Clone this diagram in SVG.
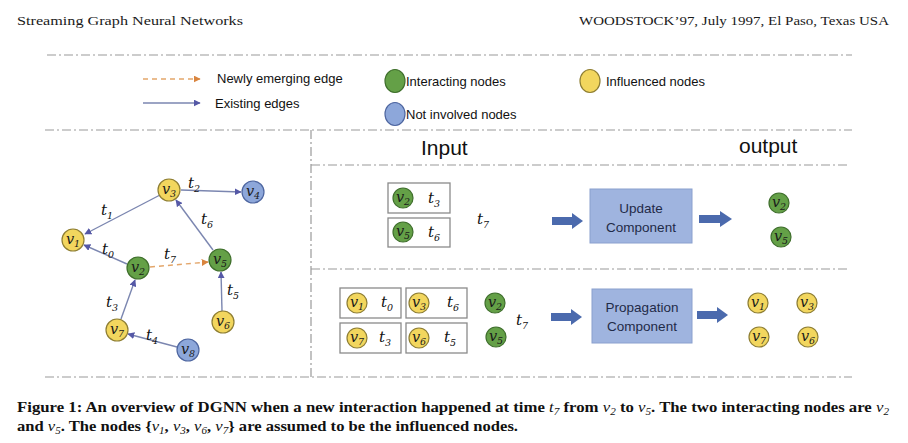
<svg xmlns="http://www.w3.org/2000/svg" width="908" height="443" viewBox="0 0 908 443">
<style>
.hdr{font-family:"Liberation Serif",serif;font-size:13.5px;fill:#1a1a1a}
.cap{font-family:"Liberation Serif",serif;font-size:15px;font-weight:bold;fill:#111}
.m{font-style:italic;font-weight:normal}
.leg{font-family:"Liberation Sans",Arial,sans-serif;font-size:13px;fill:#111}
.big{font-family:"Liberation Sans",Arial,sans-serif;font-size:21px;fill:#111}
.dash{stroke:#9a9a9a;stroke-width:1.2;stroke-dasharray:9 3 2 3;fill:none}
.gn{fill:#64A047;stroke:#3F6F2C;stroke-width:1.2}
.yn{fill:#F2D65E;stroke:#8E7E33;stroke-width:1.2}
.bn{fill:#8DA7DA;stroke:#4E66A0;stroke-width:1.2}
.nl{font-family:"DejaVu Serif",serif;font-style:italic;font-size:14.5px;fill:#1a1a1a;text-anchor:middle}
.sb{font-size:9.5px}
.tl{font-family:"DejaVu Serif",serif;font-style:italic;font-size:15px;fill:#111}
.edge{stroke:#7B86B0;stroke-width:1.4;fill:none}
.newedge{stroke:#E3A66B;stroke-width:1.4;stroke-dasharray:5 4;fill:none}
.sbox{fill:#fff;stroke:#8a8a8a;stroke-width:1.3}
.comp{fill:#9FB4DF;stroke:#8AA0CE;stroke-width:1}
.ct{font-family:"Liberation Sans",Arial,sans-serif;font-size:13.5px;fill:#1F2B48;text-anchor:middle}
.barr{fill:#4B6AAD}
</style>
<defs>
<marker id="ah" viewBox="0 0 10 10" refX="9" refY="5" markerWidth="7" markerHeight="7" markerUnits="userSpaceOnUse" orient="auto">
<path d="M0,0 L10,5 L0,10 z" fill="#5558A6"/>
</marker>
<marker id="ao" viewBox="0 0 10 10" refX="9" refY="5" markerWidth="7" markerHeight="7" markerUnits="userSpaceOnUse" orient="auto">
<path d="M0,0 L10,5 L0,10 z" fill="#D9853F"/>
</marker>
</defs>

<g id="header">
<text class="hdr" x="17" y="25" textLength="226" lengthAdjust="spacingAndGlyphs">Streaming Graph Neural Networks</text>
<text class="hdr" x="579" y="25" textLength="310" lengthAdjust="spacingAndGlyphs">WOODSTOCK’97, July 1997, El Paso, Texas USA</text>
</g>

<g id="frame">
<line class="dash" x1="47" y1="55" x2="852" y2="55"/>
<line class="dash" x1="45" y1="130" x2="852" y2="130"/>
<line class="dash" x1="311" y1="130" x2="311" y2="378"/>
<line class="dash" x1="311" y1="165" x2="848" y2="165"/>
<line class="dash" x1="311" y1="269" x2="850" y2="269"/>
<line class="dash" x1="45" y1="377" x2="852" y2="377"/>
</g>

<g id="legend">
<line class="newedge" x1="143" y1="79" x2="200" y2="79" marker-end="url(#ao)"/>
<text class="leg" x="217" y="83">Newly emerging edge</text>
<line class="edge" x1="143" y1="103" x2="200" y2="103" marker-end="url(#ah)"/>
<text class="leg" x="215" y="108">Existing edges</text>
<ellipse class="gn" cx="395" cy="81" rx="10" ry="11.5"/>
<text class="leg" x="406" y="86">Interacting nodes</text>
<ellipse class="bn" cx="395" cy="114" rx="10" ry="11.5"/>
<text class="leg" x="406" y="119">Not involved nodes</text>
<ellipse class="yn" cx="590" cy="81" rx="10" ry="11.5"/>
<text class="leg" x="606" y="86">Influenced nodes</text>
</g>

<g id="connectors">
<line class="edge" x1="160" y1="195" x2="85" y2="234" marker-end="url(#ah)"/>
<line class="edge" x1="181" y1="190" x2="241" y2="192" marker-end="url(#ah)"/>
<line class="edge" x1="213" y1="250" x2="176" y2="200" marker-end="url(#ah)"/>
<line class="edge" x1="127" y1="264" x2="84" y2="245" marker-end="url(#ah)"/>
<line class="newedge" x1="150" y1="267" x2="208" y2="262" marker-end="url(#ao)"/>
<line class="edge" x1="222" y1="311" x2="221" y2="272" marker-end="url(#ah)"/>
<line class="edge" x1="121" y1="319" x2="135" y2="280" marker-end="url(#ah)"/>
<line class="edge" x1="177" y1="347" x2="128" y2="334" marker-end="url(#ah)"/>
</g>

<g id="graph-labels">
<text class="tl" x="188" y="188">t<tspan class="sb" dy="4">2</tspan></text>
<text class="tl" x="101" y="215">t<tspan class="sb" dy="4">1</tspan></text>
<text class="tl" x="201" y="224">t<tspan class="sb" dy="4">6</tspan></text>
<text class="tl" x="102" y="254">t<tspan class="sb" dy="4">0</tspan></text>
<text class="tl" x="164" y="259">t<tspan class="sb" dy="4">7</tspan></text>
<text class="tl" x="227" y="295">t<tspan class="sb" dy="4">5</tspan></text>
<text class="tl" x="106" y="307">t<tspan class="sb" dy="4">3</tspan></text>
<text class="tl" x="146" y="340">t<tspan class="sb" dy="4">4</tspan></text>
</g>

<g id="node-v3"><circle class="yn" cx="169" cy="190" r="11"/><text class="nl" x="169" y="194">v<tspan class="sb" dy="3">3</tspan></text></g>
<g id="node-v4"><circle class="bn" cx="253" cy="192" r="11"/><text class="nl" x="253" y="196">v<tspan class="sb" dy="3">4</tspan></text></g>
<g id="node-v1"><circle class="yn" cx="73" cy="240" r="11"/><text class="nl" x="73" y="244">v<tspan class="sb" dy="3">1</tspan></text></g>
<g id="node-v2"><circle class="gn" cx="138" cy="268" r="11"/><text class="nl" x="138" y="272">v<tspan class="sb" dy="3">2</tspan></text></g>
<g id="node-v5"><circle class="gn" cx="220" cy="260" r="11"/><text class="nl" x="220" y="264">v<tspan class="sb" dy="3">5</tspan></text></g>
<g id="node-v7"><circle class="yn" cx="117" cy="330" r="11"/><text class="nl" x="117" y="334">v<tspan class="sb" dy="3">7</tspan></text></g>
<g id="node-v6"><circle class="yn" cx="223" cy="322" r="11"/><text class="nl" x="223" y="326">v<tspan class="sb" dy="3">6</tspan></text></g>
<g id="node-v8"><circle class="bn" cx="188" cy="350" r="11"/><text class="nl" x="188" y="354">v<tspan class="sb" dy="3">8</tspan></text></g>

<g id="titles">
<text class="big" x="421" y="155">Input</text>
<text class="big" x="739" y="153">output</text>
</g>

<g id="update-input">
<rect class="sbox" x="388" y="183" width="62" height="30"/>
<circle class="gn" cx="403" cy="198" r="10"/><text class="nl" x="403" y="202">v<tspan class="sb" dy="3">2</tspan></text>
<text class="tl" x="428" y="203">t<tspan class="sb" dy="4">3</tspan></text>
<rect class="sbox" x="388" y="218" width="62" height="29"/>
<circle class="gn" cx="403" cy="232" r="10"/><text class="nl" x="403" y="236">v<tspan class="sb" dy="3">5</tspan></text>
<text class="tl" x="428" y="237">t<tspan class="sb" dy="4">6</tspan></text>
<text class="tl" x="477" y="224">t<tspan class="sb" dy="4">7</tspan></text>
</g>

<g id="update-arrow-in"><polygon class="barr" points="552,217 572,217 572,213 583,221 572,229 572,225 552,225"/></g>
<g id="update-component">
<rect class="comp" x="590" y="189" width="102" height="54"/>
<text class="ct" x="641" y="213">Update</text>
<text class="ct" x="641" y="232">Component</text>
</g>
<g id="update-arrow-out"><polygon class="barr" points="699,215 720,215 720,211 732,219 720,227 720,223 699,223"/></g>
<g id="update-output">
<circle class="gn" cx="779" cy="203" r="10"/><text class="nl" x="779" y="207">v<tspan class="sb" dy="3">2</tspan></text>
<circle class="gn" cx="781" cy="237" r="10"/><text class="nl" x="781" y="241">v<tspan class="sb" dy="3">5</tspan></text>
</g>

<g id="prop-input">
<rect class="sbox" x="340" y="288" width="61" height="30"/>
<circle class="yn" cx="357" cy="303" r="10"/><text class="nl" x="357" y="307">v<tspan class="sb" dy="3">1</tspan></text>
<text class="tl" x="381" y="307">t<tspan class="sb" dy="4">0</tspan></text>
<rect class="sbox" x="406" y="288" width="61" height="30"/>
<circle class="yn" cx="419" cy="303" r="10"/><text class="nl" x="419" y="307">v<tspan class="sb" dy="3">3</tspan></text>
<text class="tl" x="447" y="307">t<tspan class="sb" dy="4">6</tspan></text>
<rect class="sbox" x="340" y="323" width="61" height="30"/>
<circle class="yn" cx="357" cy="338" r="10"/><text class="nl" x="357" y="342">v<tspan class="sb" dy="3">7</tspan></text>
<text class="tl" x="379" y="342">t<tspan class="sb" dy="4">3</tspan></text>
<rect class="sbox" x="406" y="323" width="61" height="30"/>
<circle class="yn" cx="419" cy="338" r="10"/><text class="nl" x="419" y="342">v<tspan class="sb" dy="3">6</tspan></text>
<text class="tl" x="444" y="342">t<tspan class="sb" dy="4">5</tspan></text>
<circle class="gn" cx="495" cy="303" r="10"/><text class="nl" x="495" y="307">v<tspan class="sb" dy="3">2</tspan></text>
<circle class="gn" cx="496" cy="337" r="10"/><text class="nl" x="496" y="341">v<tspan class="sb" dy="3">5</tspan></text>
<text class="tl" x="516" y="325">t<tspan class="sb" dy="4">7</tspan></text>
</g>

<g id="prop-arrow-in"><polygon class="barr" points="551,313 571,313 571,309 582,317 571,325 571,321 551,321"/></g>
<g id="propagation-component">
<rect class="comp" x="592" y="289" width="100" height="54"/>
<text class="ct" x="642" y="312">Propagation</text>
<text class="ct" x="642" y="331">Component</text>
</g>
<g id="prop-arrow-out"><polygon class="barr" points="697,311 717,311 717,307 728,315 717,323 717,319 697,319"/></g>
<g id="prop-output">
<circle class="yn" cx="758" cy="303" r="10"/><text class="nl" x="758" y="307">v<tspan class="sb" dy="3">1</tspan></text>
<circle class="yn" cx="807" cy="303" r="10"/><text class="nl" x="807" y="307">v<tspan class="sb" dy="3">3</tspan></text>
<circle class="yn" cx="759" cy="337" r="10"/><text class="nl" x="759" y="341">v<tspan class="sb" dy="3">7</tspan></text>
<circle class="yn" cx="808" cy="337" r="10"/><text class="nl" x="808" y="341">v<tspan class="sb" dy="3">6</tspan></text>
</g>

<g id="caption">
<text class="cap" x="17" y="412" textLength="872" lengthAdjust="spacingAndGlyphs">Figure 1: An overview of DGNN when a new interaction happened at time <tspan class="m">t</tspan><tspan class="m" font-size="10" dy="3">7</tspan><tspan dy="-3"> from </tspan><tspan class="m">v</tspan><tspan class="m" font-size="10" dy="3">2</tspan><tspan dy="-3"> to </tspan><tspan class="m">v</tspan><tspan class="m" font-size="10" dy="3">5</tspan><tspan dy="-3">. The two interacting nodes are </tspan><tspan class="m">v</tspan><tspan class="m" font-size="10" dy="3">2</tspan></text>
<text class="cap" x="17" y="431" textLength="501" lengthAdjust="spacingAndGlyphs">and <tspan class="m">v</tspan><tspan class="m" font-size="10" dy="3">5</tspan><tspan dy="-3">. The nodes {</tspan><tspan class="m">v</tspan><tspan class="m" font-size="10" dy="3">1</tspan><tspan dy="-3">, </tspan><tspan class="m">v</tspan><tspan class="m" font-size="10" dy="3">3</tspan><tspan dy="-3">, </tspan><tspan class="m">v</tspan><tspan class="m" font-size="10" dy="3">6</tspan><tspan dy="-3">, </tspan><tspan class="m">v</tspan><tspan class="m" font-size="10" dy="3">7</tspan><tspan dy="-3">} are assumed to be the influenced nodes.</tspan></text>
</g>
</svg>
